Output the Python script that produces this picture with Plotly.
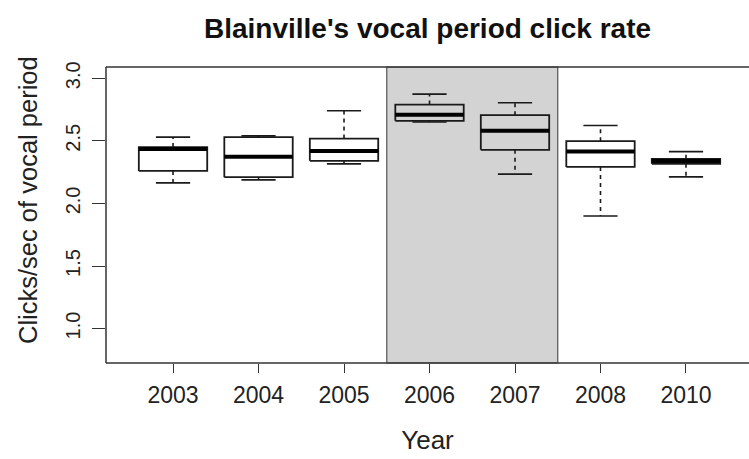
import plotly.graph_objects as go

years = ["2003", "2004", "2005", "2006", "2007", "2008", "2010"]
lower_whisker = [2.164, 2.188, 2.316, 2.650, 2.234, 1.900, 2.212]
q1 = [2.260, 2.210, 2.340, 2.660, 2.428, 2.292, 2.316]
median = [2.435, 2.372, 2.418, 2.708, 2.580, 2.414, 2.338]
q3 = [2.450, 2.530, 2.518, 2.790, 2.705, 2.497, 2.356]
upper_whisker = [2.530, 2.540, 2.740, 2.873, 2.804, 2.622, 2.414]
y_ticks = [1.0, 1.5, 2.0, 2.5, 3.0]
shaded_years = ["2006", "2007"]

BOX_W = 0.8
CAP_W = 0.4
INK = "#1a1a1a"
W, H = 749, 459

fig = go.Figure()

box_x, box_y = [], []
wh_x, wh_y = [], []
cap_x, cap_y = [], []
med_x, med_y = [], []
for i in range(len(years)):
    p = i + 1
    l, r = p - BOX_W / 2, p + BOX_W / 2
    box_x += [l, r, r, l, l, None]
    box_y += [q1[i], q1[i], q3[i], q3[i], q1[i], None]
    wh_x += [p, p, None, p, p, None]
    wh_y += [q3[i], upper_whisker[i], None, q1[i], lower_whisker[i], None]
    cl, cr = p - CAP_W / 2, p + CAP_W / 2
    cap_x += [cl, cr, None, cl, cr, None]
    cap_y += [upper_whisker[i], upper_whisker[i], None, lower_whisker[i], lower_whisker[i], None]
    med_x += [l, r, None]
    med_y += [median[i], median[i], None]

fig.add_trace(go.Scatter(x=wh_x, y=wh_y, mode="lines",
                         line=dict(color=INK, width=1.6, dash="4px,4px"),
                         hoverinfo="skip", showlegend=False))
fig.add_trace(go.Scatter(x=cap_x, y=cap_y, mode="lines",
                         line=dict(color=INK, width=1.6),
                         hoverinfo="skip", showlegend=False))
fig.add_trace(go.Scatter(x=box_x, y=box_y, mode="lines",
                         line=dict(color=INK, width=1.8),
                         hoverinfo="skip", showlegend=False))
fig.add_trace(go.Scatter(x=med_x, y=med_y, mode="lines",
                         line=dict(color="black", width=4),
                         hoverinfo="skip", showlegend=False))

# shaded period
s0 = years.index(shaded_years[0]) + 1 - 0.5
s1 = years.index(shaded_years[-1]) + 1 + 0.5
fig.add_shape(type="rect", xref="x", yref="paper", x0=s0, x1=s1, y0=0, y1=1,
              fillcolor="#d3d3d3", line=dict(color="#555555", width=1.2), layer="below")

# frame (left, top, bottom)
for (xa, ya, xb, yb) in [(0, 0, 0, 1), (0, 1, 1, 1), (0, 0, 1, 0)]:
    fig.add_shape(type="line", xref="paper", yref="paper", x0=xa, y0=ya, x1=xb, y1=yb,
                  line=dict(color="#333333", width=1.5))

# y-axis title as annotation (positioned like the reference)
fig.add_annotation(text="Clicks/sec of vocal period", textangle=-90,
                   xref="paper", yref="paper",
                   x=(28 - 106) / (W - 106), y=(H - 96 - 200) / (H - 96 - 67),
                   xanchor="center", yanchor="middle", showarrow=False,
                   font=dict(size=25.5, color="#222222"))

fig.update_layout(
    width=W, height=H,
    margin=dict(l=106, r=0, t=67, b=96),
    paper_bgcolor="white", plot_bgcolor="white",
    font=dict(family="Liberation Sans, Arial, sans-serif", color="#222222"),
    title=dict(text="<b>Blainville's vocal period click rate</b>",
               x=(106 + W) / 2 / W, xanchor="center", y=1 - 28 / H, yanchor="middle",
               font=dict(size=28, color="#111111")),
    xaxis=dict(range=[0.216, 7.737], tickmode="array",
               tickvals=list(range(1, len(years) + 1)), ticktext=years,
               showgrid=False, zeroline=False, showline=False,
               ticks="outside", ticklen=9, tickwidth=1.3, tickcolor="#333333",
               ticklabelstandoff=2,
               tickfont=dict(size=23), title=dict(text="Year", font=dict(size=26), standoff=24)),
    yaxis=dict(range=[0.725, 3.09], tickmode="array", tickvals=y_ticks,
               ticktext=[f"{v:.1f}" for v in y_ticks],
               showgrid=False, zeroline=False, showline=False,
               ticks="outside", ticklen=13, tickwidth=1.3, tickcolor="#333333",
               ticklabelstandoff=4,
               tickangle=-90, tickfont=dict(size=20)),
)

fig.write_html("out.html")
